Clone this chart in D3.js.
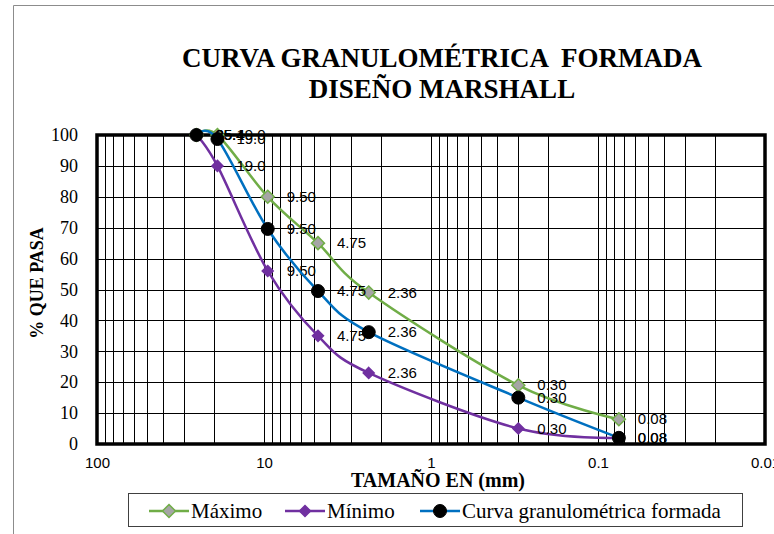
<!DOCTYPE html>
<html>
<head>
<meta charset="utf-8">
<script src="https://cdn.jsdelivr.net/npm/d3@7"></script>
<style>
  body { margin: 0; background: #fff; }
  svg { display: block; }
</style>
</head>
<body>
<svg></svg>
<script>
var sizes = [25.4, 19.0, 9.5, 4.75, 2.36, 0.3, 0.075];
var sizeLabels = ["25.4", "19.0", "9.50", "4.75", "2.36", "0.30", "0.08"];
var maximo = [100, 100, 80, 65, 49, 19, 8];
var minimo = [100, 90, 56, 35, 23, 5, 2];
var curva = [100, 98.7, 69.6, 49.5, 36.2, 15, 2];
var xTicks = [100, 10, 1, 0.1, 0.01];
var yTicks = [0, 10, 20, 30, 40, 50, 60, 70, 80, 90, 100];

var svgWidth = 774,
  svgHeight = 534;

var plot = { left: 97, right: 765, top: 135, bottom: 444 };

var svg = d3.select("svg").attr("width", svgWidth).attr("height", svgHeight);

var x = d3.scaleLog().domain([100, 0.01]).range([plot.left, plot.right]);
var y = d3.scaleLinear().domain([0, 100]).range([plot.bottom, plot.top]);

// outer chart border (cropped on right/bottom)
svg.append("path")
  .attr("d", "M13.5,534 L13.5,5.5 L774,5.5")
  .attr("fill", "none")
  .attr("stroke", "#8c8c8c")
  .attr("stroke-width", 1);

// title
var title = svg.append("text")
  .attr("text-anchor", "middle")
  .attr("font-family", "'Liberation Serif', 'Times New Roman', serif")
  .attr("font-weight", "bold")
  .attr("font-size", 27)
  .attr("fill", "#000");
title.append("tspan").attr("x", 442).attr("y", 67).attr("xml:space", "preserve").text("CURVA GRANULOMÉTRICA  FORMADA");
title.append("tspan").attr("x", 442).attr("y", 98).text("DISEÑO MARSHALL");

// gridlines
var vLines = [];
for (var k = -2; k < 2; k++) {
  for (var m = 1; m < 10; m++) vLines.push(m * Math.pow(10, k));
}
vLines.push(100);

svg.append("g")
  .selectAll("line")
  .data(vLines)
  .enter()
  .append("line")
  .attr("x1", function (d) { return Math.round(x(d)) + 0.5; })
  .attr("x2", function (d) { return Math.round(x(d)) + 0.5; })
  .attr("y1", plot.top)
  .attr("y2", plot.bottom)
  .attr("stroke", "#000")
  .attr("stroke-width", 1);

svg.append("g")
  .selectAll("line")
  .data(yTicks)
  .enter()
  .append("line")
  .attr("x1", plot.left)
  .attr("x2", plot.right)
  .attr("y1", function (d) { return Math.round(y(d)) + 0.5; })
  .attr("y2", function (d) { return Math.round(y(d)) + 0.5; })
  .attr("stroke", "#000")
  .attr("stroke-width", 1);

// plot frame
svg.append("rect")
  .attr("x", plot.left)
  .attr("y", plot.top)
  .attr("width", plot.right - plot.left)
  .attr("height", plot.bottom - plot.top)
  .attr("fill", "none")
  .attr("stroke", "#000")
  .attr("stroke-width", 3.5);

// axes
var yAxis = d3.axisLeft(y).tickValues(yTicks).tickSize(0).tickPadding(19);
svg.append("g")
  .attr("transform", "translate(" + plot.left + ",0)")
  .call(yAxis)
  .call(function (g) { g.select(".domain").remove(); })
  .selectAll("text")
  .attr("font-family", "'Liberation Serif', 'Times New Roman', serif")
  .attr("font-size", 18)
  .attr("fill", "#000");

var xAxis = d3.axisBottom(x).tickValues(xTicks).tickSize(0).tickPadding(13)
  .tickFormat(function (d) { return String(d); });
svg.append("g")
  .attr("transform", "translate(0," + plot.bottom + ")")
  .call(xAxis)
  .call(function (g) { g.select(".domain").remove(); })
  .selectAll("text")
  .attr("font-family", "'Liberation Sans', Arial, sans-serif")
  .attr("font-size", 15)
  .attr("fill", "#000");

// axis titles
svg.append("text")
  .attr("x", 438)
  .attr("y", 487)
  .attr("text-anchor", "middle")
  .attr("font-family", "'Liberation Serif', 'Times New Roman', serif")
  .attr("font-weight", "bold")
  .attr("font-size", 20)
  .text("TAMAÑO EN (mm)");

svg.append("text")
  .attr("transform", "translate(43,283) rotate(-90)")
  .attr("text-anchor", "middle")
  .attr("font-family", "'Liberation Serif', 'Times New Roman', serif")
  .attr("font-weight", "bold")
  .attr("font-size", 18)
  .text("% QUE PASA");

// series
var series = [
  { name: "Máximo", values: maximo, line: "#70ad47", marker: "diamond", fill: "#a5a5a5", stroke: "#70ad47", r: 6.5 },
  { name: "Mínimo", values: minimo, line: "#7030a0", marker: "diamond", fill: "#7030a0", stroke: "#7030a0", r: 5.5 },
  { name: "Curva granulométrica formada", values: curva, line: "#0070c0", marker: "circle", fill: "#000", stroke: "#000", r: 6.5 }
];

var line = d3.line()
  .x(function (d) { return x(d[0]); })
  .y(function (d) { return y(d[1]); })
  .curve(d3.curveCardinal.tension(0));

function drawMarker(g, type, r, fill, stroke) {
  if (type === "circle") {
    g.append("circle").attr("r", r).attr("fill", fill).attr("stroke", stroke);
  } else {
    g.append("path")
      .attr("d", "M0," + -r + " L" + r + ",0 L0," + r + " L" + -r + ",0 Z")
      .attr("fill", fill)
      .attr("stroke", stroke)
      .attr("stroke-width", 1.5);
  }
}

series.forEach(function (s) {
  var pts = sizes.map(function (d, i) { return [d, s.values[i]]; });
  var g = svg.append("g");

  g.append("path")
    .datum(pts)
    .attr("d", line)
    .attr("fill", "none")
    .attr("stroke", s.line)
    .attr("stroke-width", 2.5);

  g.selectAll("g.pt")
    .data(pts)
    .enter()
    .append("g")
    .attr("class", "pt")
    .attr("transform", function (d) { return "translate(" + x(d[0]) + "," + y(d[1]) + ")"; })
    .each(function () { drawMarker(d3.select(this), s.marker, s.r, s.fill, s.stroke); });

  // data labels: sieve size, to the right of each point
  g.selectAll("text")
    .data(pts)
    .enter()
    .append("text")
    .attr("x", function (d) { return x(d[0]) + 19; })
    .attr("y", function (d) { return y(d[1]) + 5; })
    .attr("font-family", "'Liberation Sans', Arial, sans-serif")
    .attr("font-size", 15)
    .attr("fill", "#000")
    .text(function (d, i) { return sizeLabels[i]; });
});

// legend
svg.append("rect")
  .attr("x", 128.5)
  .attr("y", 493.5)
  .attr("width", 614)
  .attr("height", 33)
  .attr("fill", "#fff")
  .attr("stroke", "#404040")
  .attr("stroke-width", 1);

var legendX = [149, 285, 420];
series.forEach(function (s, i) {
  var lg = svg.append("g").attr("transform", "translate(" + legendX[i] + ",511)");
  lg.append("line")
    .attr("x1", 0)
    .attr("x2", 40)
    .attr("stroke", s.line)
    .attr("stroke-width", 2.5);
  var mk = lg.append("g").attr("transform", "translate(20,0)");
  drawMarker(mk, s.marker, s.r, s.fill, s.stroke);
  lg.append("text")
    .attr("x", 42)
    .attr("y", 7)
    .attr("font-family", "'Liberation Serif', 'Times New Roman', serif")
    .attr("font-size", 21)
    .attr("fill", "#000")
    .text(s.name);
});
</script>
</body>
</html>
